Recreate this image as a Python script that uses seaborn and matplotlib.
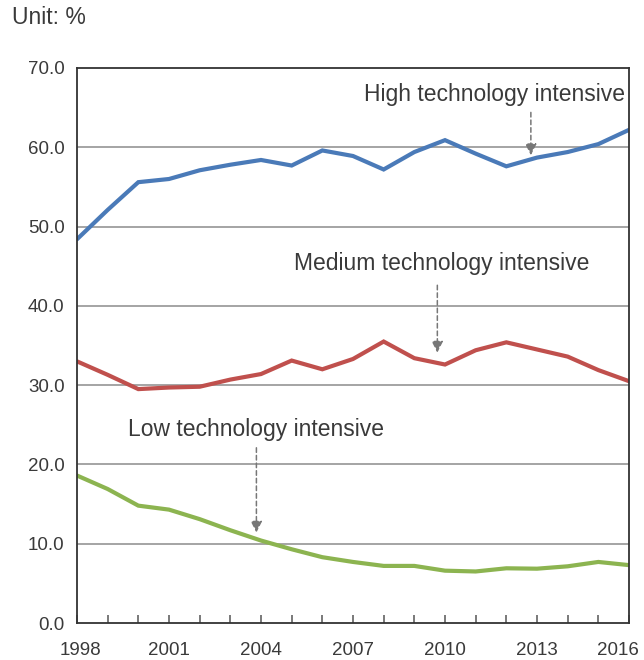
import matplotlib
matplotlib.use("Agg")
import matplotlib.pyplot as plt
import matplotlib.transforms as mtransforms
import seaborn as sns
import pandas as pd

years = list(range(1998, 2017))
high_tech = [48.4, 52.1, 55.6, 56.0, 57.1, 57.8, 58.4, 57.7, 59.6, 58.9,
             57.2, 59.4, 60.9, 59.2, 57.6, 58.7, 59.4, 60.4, 62.2]
medium_tech = [33.0, 31.3, 29.5, 29.7, 29.8, 30.7, 31.4, 33.1, 32.0, 33.3,
               35.5, 33.4, 32.6, 34.4, 35.4, 34.5, 33.6, 31.9, 30.5]
low_tech = [18.6, 16.9, 14.8, 14.3, 13.1, 11.7, 10.4, 9.3, 8.3, 7.7,
            7.2, 7.2, 6.6, 6.5, 6.9, 6.85, 7.15, 7.7, 7.3]
series_names = ["High technology intensive", "Medium technology intensive",
                "Low technology intensive"]
y_ticks = [0, 10, 20, 30, 40, 50, 60, 70]
x_ticks = [1998, 2001, 2004, 2007, 2010, 2013, 2016]

df = pd.DataFrame({
    "year": years * 3,
    "share": high_tech + medium_tech + low_tech,
    "group": [series_names[0]] * len(years) + [series_names[1]] * len(years)
             + [series_names[2]] * len(years),
})

sns.set_theme(style="white")
plt.rcParams["font.family"] = ["Liberation Sans", "DejaVu Sans"]

text_color = "#3a3a3a"
palette = {series_names[0]: "#4a7ab8",
           series_names[1]: "#c0504d",
           series_names[2]: "#8cb450"}

fig = plt.figure(figsize=(6.44, 6.6), dpi=100)
ax = fig.add_axes([77 / 644, 1 - 623 / 660, 552 / 644, 555 / 660])

sns.lineplot(data=df, x="year", y="share", hue="group", palette=palette,
             linewidth=3.0, legend=False, ax=ax, solid_joinstyle="miter")

ax.set_xlim(1998, 2016)
ax.set_ylim(0, 70)
ax.set_yticks(y_ticks)
ax.set_yticklabels([f"{v:.1f}" for v in y_ticks])
ax.set_xticks(x_ticks)
ax.set_xticklabels([str(v) for v in x_ticks])
ax.set_xticks(years, minor=True)
ax.set_xlabel("")
ax.set_ylabel("")

for v in y_ticks[1:-1]:
    ax.axhline(v, color="#8c8c8c", linewidth=1.1, zorder=0)

for side in ["left", "right", "top", "bottom"]:
    ax.spines[side].set_visible(True)
    ax.spines[side].set_color("#333333")
    ax.spines[side].set_linewidth(1.3)

ax.tick_params(axis="y", length=0, pad=9, labelsize=13.5, labelcolor=text_color)
ax.tick_params(axis="x", which="both", direction="in", length=6, width=1.1,
               color="#555555", bottom=True, labelsize=13.5,
               labelcolor=text_color, pad=14)

# nudge the end labels so they stay inside the figure
xlabels = ax.get_xticklabels()
xlabels[0].set_transform(xlabels[0].get_transform()
                         + mtransforms.ScaledTranslation(3 / 100, 0, fig.dpi_scale_trans))
xlabels[-1].set_transform(xlabels[-1].get_transform()
                          + mtransforms.ScaledTranslation(-11 / 100, 0, fig.dpi_scale_trans))

fig.text(12 / 644, 1 - 18 / 660, "Unit: %", fontsize=16.5, color=text_color,
         va="center", ha="left")

arrow_style = dict(arrowstyle="-|>", color="#777777", linestyle=(0, (3, 2)),
                   linewidth=1.1, mutation_scale=17, shrinkA=0, shrinkB=0)

annotations = [
    (series_names[0], 2011.6, 66.6, 2012.8, 59.0, 64.4),
    (series_names[1], 2009.9, 45.3, 2009.75, 34.1, 42.6),
    (series_names[2], 2003.85, 24.4, 2003.85, 11.4, 22.1),
]
for label, tx, ty, ax_x, ay_end, ay_start in annotations:
    ax.text(tx, ty, label, fontsize=16.5, color=text_color, ha="center",
            va="center")
    ax.annotate("", xy=(ax_x, ay_end), xytext=(ax_x, ay_start),
                arrowprops=arrow_style)

fig.savefig("out.png", dpi=100)
